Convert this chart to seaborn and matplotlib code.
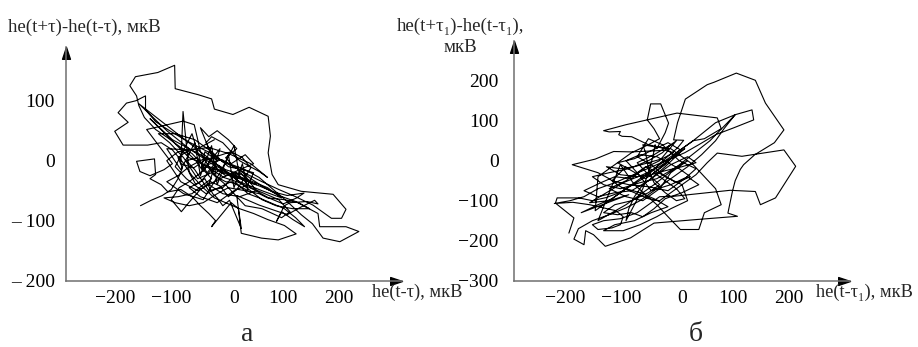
import numpy as np
import pandas as pd
import matplotlib
matplotlib.use("Agg")
import matplotlib.pyplot as plt
from matplotlib.path import Path
from matplotlib.transforms import ScaledTranslation
import seaborn as sns

# Phase portrait (а): he(t-τ) vs he(t+τ)-he(t-τ), мкВ — outer excursions
traj_a = [
    (-167, -75), (-148, -66), (-128, -58), (-112, -48), (-100, -30), (-92, -12), (-100, 5), (-85, 15),
    (-68, 0), (-55, -18), (-48, -8), (-36, -22), (-20, -12), (-5, -28), (12, -20), (25, -35), (45, -42),
    (70, -52), (95, -58), (125, -54), (112, -62), (88, -72), (62, -62), (35, -48), (8, -36), (-18, -28),
    (-40, -15), (-58, -5), (-75, 12), (-95, 22), (-118, 38), (-140, 52), (-160, 72), (-170, 92),
    (-174, 108), (-186, 125), (-176, 140), (-136, 147), (-106, 159), (-105, 120), (-64, 110), (-40, 103),
    (-35, 86), (-2, 77), (27, 89), (61, 74), (65, 41), (61, 13), (68, -23), (79, -40), (120, -51),
    (177, -56), (200, -81), (192, -96), (174, -96), (141, -74), (110, -60), (80, -48), (50, -35),
    (22, -22), (0, -10), (-22, 2), (-45, -6), (-62, -22), (-80, -35), (-98, -45), (-112, -65), (-94, -85),
    (-79, -68), (-60, -48), (-42, -35), (-25, -42), (-10, -60), (5, -48), (18, -30), (30, -12), (15, 5),
    (-5, 15), (-28, 8), (-50, 2), (-72, -12), (-95, -5), (-91, 82), (-80, -20), (-68, -40), (-52, -30),
    (-38, -55), (-30, -62), (-20, -75), (-8, -66), (13, -113), (8, -80), (-5, -70), (-40, -110),
    (-33, -100), (-45, -88), (-60, -75), (-75, -60), (-95, -48), (-118, -52), (-130, -40), (-150, -30),
    (-140, -23), (-142, 3), (-174, -1), (-168, -18), (-150, -25), (-125, -15), (-110, -5), (-156, 52),
    (-91, 66), (-71, 60), (-66, 40), (-60, 15), (-48, -5), (-35, -25), (-15, -35), (5, -38), (25, -55),
    (45, -62), (65, -70), (90, -80), (110, -95), (126, -110), (105, -98), (85, -85), (76, -101), (90, -75),
    (100, -70), (130, -68), (150, -72), (144, -66), (118, -78), (95, -90), (70, -82), (45, -74), (25, -66),
    (5, -58), (13, -121), (49, -129), (79, -132), (111, -122), (90, -108), (60, -98), (35, -88), (10, -80),
    (-15, -70), (-35, -62), (-55, -45), (-75, -25), (-92, -2), (-110, 18), (-130, 30), (-154, 26),
    (-198, 26), (-213, 49), (-189, 64), (-207, 80), (-192, 96), (-175, 100), (-158, 108), (-158, 85),
    (-140, 65), (-115, 50), (-88, 35), (-62, 22), (-40, 12), (-20, -2), (5, -12), (30, -30), (55, -45),
    (80, -58), (110, -68), (150, -88), (153, -110), (200, -110), (223, -118), (189, -135), (159, -129),
    (140, -105), (120, -90), (95, -68), (70, -48), (45, -28), (20, -15), (-8, -5), (-35, 5), (-50, 30),
    (-40, 40), (-20, 30), (-5, 15), (10, 0), (25, -8), (45, -18), (60, -28),
]

# (а) — dense core of the attractor
core_a = [
    (60, -28), (30, -5), (-10, 12), (-45, 22), (-80, 18), (-120, 20), (-95, -15), (-70, 30), (-60, -25),
    (-40, 25), (-30, -40), (-10, 10), (0, -45), (15, -5), (25, -50), (-5, -35), (-50, -55), (-85, -30),
    (-105, -10), (-75, 45), (-55, -15), (-25, 20), (-45, -40), (-20, -55), (10, -60), (40, -50),
    (20, -25), (-15, -15), (-50, 5), (-80, -10), (-100, -25), (-120, -35), (-90, -55), (-55, -65),
    (-25, -20), (0, 25), (10, -25), (30, -45), (55, -55), (80, -65), (100, -85), (85, -95), (50, -80),
    (20, -75), (-15, -40), (-40, -20), (-65, -30), (-90, 5), (-115, 30), (-135, 45), (-105, 45),
    (-70, 35), (-40, 15), (-10, -10), (15, -15), (35, -20), (25, -40), (0, -50), (-30, -70), (-60, -60),
    (-80, -45), (-60, -35), (-35, -10), (-15, -25), (5, -20), (-20, -45), (-45, -50), (-70, -15),
    (-85, 0), (-65, 5), (-48, -20), (-30, 0), (-52, 15), (-58, -12), (-40, -30), (-55, -40), (-75, -55),
    (-100, -60), (-125, -62), (-105, -70), (-80, -75), (-55, -70), (-30, -55), (-10, -45), (20, -50),
    (45, -55), (60, -62), (90, -65), (115, -70), (135, -80), (105, -80), (75, -75), (50, -65),
    (-170, 95), (-120, 50), (-80, 20), (-40, -5), (0, -25), (40, -40), (-20, -20), (-80, 5), (-150, 70),
    (-110, 35), (-60, 10), (-25, -10), (10, -35), (50, -50), (85, -62), (60, -45), (20, -30), (-30, -15),
    (-60, 55), (-45, 40), (-30, 50), (-10, 35), (5, 20), (-15, 5), (-5, -5), (20, 10), (35, -5),
    (10, -15), (-25, -30), (-65, -50), (-95, -35), (-120, 0), (-100, 15), (-65, 20), (-35, 35),
]

# Phase portrait (б): he(t-τ1) vs he(t+τ1)-he(t-τ1), мкВ — outer excursions
traj_b = [
    (-202, -181), (-193, -143), (-226, -106), (-223, -93), (-184, -93), (-160, -100), (-135, -92),
    (-112, -80), (-90, -62), (-70, -45), (-52, -25), (-38, -5), (-22, 15), (-8, 32), (3, 51), (-15, 52),
    (-8, 95), (6, 154), (45, 190), (57, 196), (97, 219), (131, 201), (149, 144), (182, 77), (165, 45),
    (130, 15), (110, -10), (104, -22), (95, -50), (90, -77), (82, -131), (99, -139), (27, -147),
    (-50, -156), (-92, -193), (-137, -214), (-158, -185), (-172, -175), (-175, -210), (-193, -196),
    (-185, -170), (-160, -150), (-130, -135), (-100, -118), (-75, -100), (-55, -80), (-35, -60),
    (-15, -40), (10, -15), (35, 15), (60, 50), (75, 80), (95, 115), (125, 127), (128, 102), (92, 82),
    (60, 65), (30, 40), (5, 20), (-20, 5), (-45, -10), (-70, -25), (-95, -40), (-120, -55), (-150, -70),
    (-175, -90), (-200, -100), (-228, -107), (-195, -104), (-165, -110), (-140, -118), (-118, -125),
    (-105, -140), (-110, -160), (-125, -168), (-150, -172), (-160, -160), (-140, -150), (-110, -145),
    (-80, -130), (-60, -110), (-40, -90), (-15, -89), (86, -74), (131, -77), (140, -110), (167, -93),
    (203, -14), (182, 27), (107, 11), (63, 19), (45, -5), (25, -35), (0, -60), (-20, -80), (-40, -100),
    (-60, -95), (-85, -80), (-110, -65), (-130, -45), (-150, -30), (-196, -10), (-155, 4), (-122, 23),
    (-90, 22), (-60, 24), (-30, 26), (-15, 20), (-35, 5), (-60, -5), (-85, -15), (-110, -20), (-135, -15),
    (-110, -35), (-80, -40), (-55, -35), (-30, -25), (0, -15), (25, -5), (10, 10), (-20, -10), (-45, -35),
    (-70, -60), (-85, -90), (-95, -120), (-100, -150), (-85, -110), (-70, -70), (-60, -30), (-52, 10),
    (-48, 40), (-45, 30), (-30, 70), (-24, 94), (-38, 142), (-56, 142), (-62, 102), (-50, 80), (-40, 55),
    (-60, 40), (-90, 60), (-107, 61), (-113, 65), (-110, 73), (-130, 72), (-140, 75), (-100, 90),
    (-62, 102), (-9, 119), (63, 107), (70, 80), (40, 55), (20, 50), (-10, 20), (-30, -10), (-50, -30),
    (-30, -50), (-10, -70), (5, -95), (-10, -100), (-30, -80), (-50, -55), (-60, -20), (-65, 20),
    (-70, 40), (-50, 35), (-20, 30), (0, 10), (20, -10), (40, -40), (60, -70), (70, -110), (40, -130),
    (30, -172), (-3, -172), (-25, -140), (-45, -110), (-65, -85), (-85, -60), (-100, -30), (-110, -10),
    (-150, -150), (-100, -110), (-50, -60), (0, -5), (50, 50), (95, 115), (60, 95), (20, 50), (-10, 20),
    (-45, -15), (-80, -50), (-120, -90), (-155, -125),
]

# (б) — dense core of the attractor
core_b = [
    (-155, -125), (-150, -40), (-120, -10), (-90, 20), (-60, 40), (-30, 30), (-10, 50), (-40, 0),
    (-70, -20), (-100, -50), (-130, -70), (-100, -90), (-70, -100), (-40, -70), (-20, -30), (10, 0),
    (-15, -20), (-45, -45), (-75, -55), (-110, -70), (-140, -60), (-160, -40), (-130, -30), (-95, -20),
    (-60, 0), (-35, 20), (-20, 40), (-50, 15), (-80, -5), (-60, -35), (-40, -60), (-60, -80), (-90, -100),
    (-120, -110), (-140, -130), (-115, -135), (-90, -130), (-70, -140), (-50, -120), (-30, -95), (0, -80),
    (30, -60), (10, -40), (-20, -60), (-55, -75), (-80, -30), (-100, 0), (-75, 15), (-45, 10), (-25, -5),
    (-5, -20), (15, -40), (-10, -55), (-35, -35), (-65, -15), (-90, -45), (-120, -40), (-145, -55),
    (-175, -75), (-150, -90), (-120, -80), (-90, -75), (-60, -50), (-30, -15), (0, 25), (-25, 45),
    (-55, 25), (-85, 5), (-115, -5), (-90, -25), (-65, -45), (-45, -25), (-20, 5), (5, 30), (-15, 10),
    (-40, -15), (-70, -35), (-105, -55), (-135, -80), (-165, -105), (-130, -100), (-95, -85),
    (-180, -130), (-150, -110), (-125, -95), (-100, -70), (-75, -80), (-50, -95), (-25, -115),
    (-55, -130), (-85, -150), (-120, -160), (-140, -175), (-105, -175), (-75, -160), (-45, -140),
    (-20, -120), (10, -100), (0, -60), (-30, -40), (-55, -10), (-80, 10), (-60, 55), (-35, 40),
    (-5, 0), (25, -20), (5, -45), (-25, -75), (-60, -65), (-95, -60), (-125, -50), (-100, -15),
]

x_ticks = [-200, -100, 0, 100, 200]
x_tick_labels = ["\u2212200", "\u2212100", "0", "100", "200"]
ya_ticks = [100, 0, -100, -200]
ya_tick_labels = ["100", "0", "\u2013 100", "\u2013 200"]
yb_ticks = [200, 100, 0, -100, -200, -300]
yb_tick_labels = ["200", "100", "0", "\u2212100", "\u2212200", "\u2212300"]

sns.set_theme(style="white")
plt.rcParams["font.family"] = ["Liberation Serif", "DejaVu Serif"]
plt.rcParams["font.size"] = 14

W, H = 918, 347
fig = plt.figure(figsize=(W / 100, H / 100), dpi=100)

def px(x, y):
    return x / W, 1 - y / H

ax_a = fig.add_axes([66 / W, 1 - 280.7 / H, 336 / W, 234 / H])
ax_b = fig.add_axes([514 / W, 1 - 280.7 / H, 336 / W, 240 / H])

axis_grey = "#6f6f6f"
arrow_right = Path([(0, 0), (-1.5, 0.5), (-1.5, -0.5), (0, 0)],
                   [Path.MOVETO, Path.LINETO, Path.LINETO, Path.CLOSEPOLY])
arrow_up = Path([(0, 0), (0.5, -1.5), (-0.5, -1.5), (0, 0)],
                [Path.MOVETO, Path.LINETO, Path.LINETO, Path.CLOSEPOLY])

def style_axes(ax, xlim, ylim, yticks, ylabels, ypad, xshift):
    ax.set_xlim(*xlim)
    ax.set_ylim(*ylim)
    for s in ("top", "right"):
        ax.spines[s].set_visible(False)
    for s in ("left", "bottom"):
        ax.spines[s].set_color(axis_grey)
        ax.spines[s].set_linewidth(1.1)
    ax.set_xticks(x_ticks)
    ax.set_xticklabels(x_tick_labels)
    ax.set_yticks(yticks)
    ax.set_yticklabels(ylabels)
    ax.tick_params(axis="both", direction="inout", length=6, width=1.0,
                   color=axis_grey, labelsize=14, labelcolor="black")
    ax.tick_params(axis="y", pad=ypad)
    ax.tick_params(axis="x", pad=4)
    for lab in ax.get_xticklabels():
        if lab.get_text() != "0":
            lab.set_transform(lab.get_transform() +
                              ScaledTranslation(-xshift / 100, 0, fig.dpi_scale_trans))
    ax.set_xlabel("")
    ax.set_ylabel("")
    ax.plot([1], [0], marker=arrow_right, markersize=17, color="black",
            transform=ax.transAxes, clip_on=False, lw=0)
    ax.plot([0], [1], marker=arrow_up, markersize=17, color="black",
            transform=ax.transAxes, clip_on=False, lw=0)

for ax, parts in ((ax_a, (traj_a, core_a)), (ax_b, (traj_b, core_b))):
    df = pd.DataFrame([p for part in parts for p in part], columns=["x", "y"])
    sns.lineplot(data=df, x="x", y="y", sort=False, estimator=None,
                 color="black", linewidth=0.8, ax=ax)

style_axes(ax_a, (-300, 300), (-200, 190), ya_ticks, ya_tick_labels, 5, 7)
style_axes(ax_b, (-300, 300), (-300, 300), yb_ticks, yb_tick_labels, 8, 5)

fig.text(*px(8, 31.5), "he(t+τ)-he(t-τ), мкВ", ha="left", va="baseline", fontsize=13.6)
fig.text(*px(461, 30.5), "he(t+τ\u2081)-he(t-τ\u2081),", ha="center", va="baseline", fontsize=13.6)
fig.text(*px(460, 52.5), "мкВ", ha="center", va="baseline", fontsize=13.6)
fig.text(*px(372, 297), "he(t-τ), мкВ", ha="left", va="baseline", fontsize=13.2)
fig.text(*px(816, 297), "he(t-τ\u2081), мкВ", ha="left", va="baseline", fontsize=13.2)
fig.text(*px(247, 341), "а", ha="center", va="baseline", fontsize=20)
fig.text(*px(696, 341), "б", ha="center", va="baseline", fontsize=20)

fig.savefig("out.png", dpi=100, facecolor="white")
